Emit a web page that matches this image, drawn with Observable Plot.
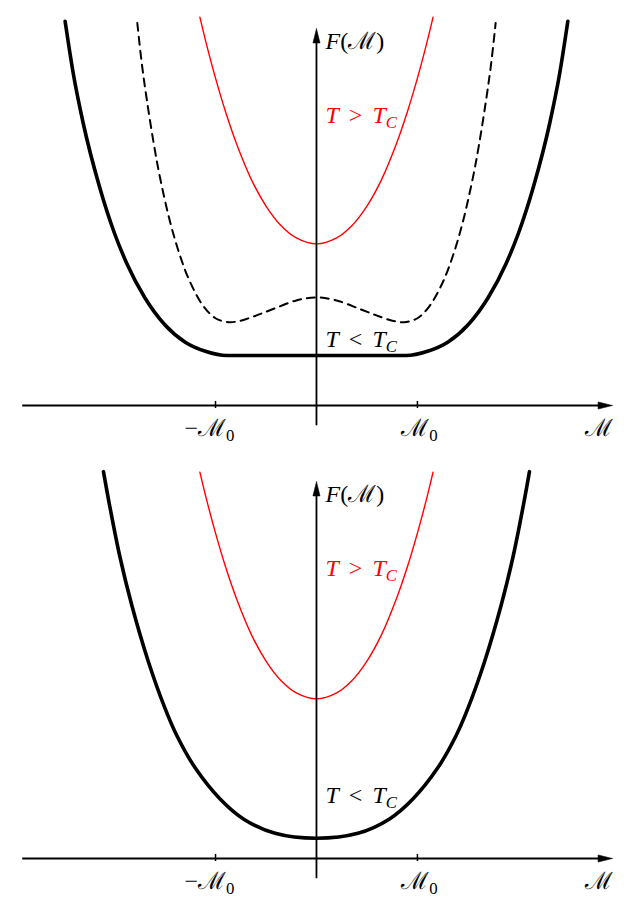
<!DOCTYPE html>
<html><head><meta charset="utf-8">
<script src="https://cdn.jsdelivr.net/npm/d3@7"></script>
<script src="https://cdn.jsdelivr.net/npm/@observablehq/plot@0.6"></script>
<style>body{margin:0;background:#fff;} svg{display:block;} text{white-space:pre;}</style>
</head><body><div id="chart"></div>
<script>
// ---- data (M in units of M0, F in arbitrary units); positive half, curves are symmetric ----
const redTopM   = [0, 0.2, 0.35, 0.5, 0.64, 0.79, 0.9, 1.0, 1.09, 1.155];
const redTopF   = [1.6, 1.66, 1.78, 1.975, 2.227, 2.587, 2.906, 3.241, 3.578, 3.845];
const blackTopM = [0, 0.5, 0.89, 1.1, 1.3, 1.5, 1.7, 1.88, 2.0, 2.15, 2.31, 2.41, 2.49];
const blackTopF = [0.495, 0.495, 0.495, 0.537, 0.627, 0.797, 1.067, 1.409, 1.703, 2.168, 2.792, 3.292, 3.804];
const dashTopM  = [0, 0.2, 0.43, 0.6, 0.75, 0.87, 1.0, 1.12, 1.25, 1.35, 1.45, 1.55, 1.61, 1.68, 1.73, 1.775];
const dashTopF  = [1.07, 1.04, 0.955, 0.89, 0.84, 0.825, 0.864, 0.984, 1.218, 1.478, 1.818, 2.258, 2.582, 3.023, 3.383, 3.788];

const redBotM   = [0, 0.2, 0.35, 0.5, 0.64, 0.79, 0.9, 1.0, 1.09, 1.155];
const redBotF   = [1.58, 1.64, 1.76, 1.955, 2.207, 2.567, 2.886, 3.221, 3.558, 3.825];
const blackBotM = [0, 0.41, 0.72, 0.955, 1.2, 1.38, 1.5, 1.665, 1.83, 1.95, 2.05, 2.11];
const blackBotF = [0.2, 0.249, 0.389, 0.589, 0.895, 1.21, 1.486, 1.948, 2.509, 3.0, 3.5, 3.83];

const tickValues  = [-1, 1];
const tickLabels  = ["−ℳ_0", "ℳ_0"];
const xAxisLabel  = "ℳ";
const yAxisLabel  = "F(ℳ)";
const hotLabel    = "T > T_C";
const coldLabel   = "T < T_C";
const hotLabelF   = [2.8, 2.8];     // top, bottom panel
const coldLabelF  = [0.584, 0.55];

// axis extents (data units)
const xAxisRange = [-2.91, 2.93];
const yAxisRange = [-0.2, 3.73];

const SERIF = "'Liberation Serif', 'DejaVu Serif', serif";
const RED = "#ff0000";
const FS = 24;

function mirror(M, F) {
  const pts = [];
  for (let i = M.length - 1; i > 0; i--) pts.push({M: -M[i], F: F[i]});
  for (let i = 0; i < M.length; i++) pts.push({M: M[i], F: F[i]});
  return pts;
}

function texify(svg) {
  svg.querySelectorAll("text").forEach(t => {
    const s = t.textContent;
    t.textContent = "";
    t.setAttribute("word-spacing", "4");
    for (let i = 0; i < s.length; i++) {
      let ch = s[i], sub = false;
      if (ch === "_") { sub = true; ch = s[++i]; }
      const ts = document.createElementNS("http://www.w3.org/2000/svg", "tspan");
      ts.textContent = ch;
      if (/[A-Za-z]/.test(ch)) ts.setAttribute("font-style", "italic");
      if (sub) { ts.setAttribute("font-size", "0.7em"); ts.setAttribute("dy", "0.3em"); }
      t.appendChild(ts);
    }
  });
}

function panel(height, curves, idx) {
  const headL = 0.14, headWx = 0.035, headLy = 0.14, headWy = 0.035;
  const hHead = [{M: xAxisRange[1], F: 0}, {M: xAxisRange[1] - headL, F: headWx}, {M: xAxisRange[1] - headL, F: -headWx}, {M: xAxisRange[1], F: 0}];
  const vHead = [{M: 0, F: yAxisRange[1]}, {M: -headWy, F: yAxisRange[1] - headLy}, {M: headWy, F: yAxisRange[1] - headLy}, {M: 0, F: yAxisRange[1]}];
  const marks = [];
  for (const c of curves) {
    marks.push(Plot.line(mirror(c.M, c.F), {x: "M", y: "F", curve: c.curve, stroke: c.stroke, strokeWidth: c.width, strokeDasharray: c.dash}));
  }
  const txt = {fontSize: FS, fontFamily: SERIF, lineAnchor: "bottom", fill: "black"};
  marks.push(
    Plot.ruleY([0], {x1: xAxisRange[0], x2: xAxisRange[1] - headL * 0.8, stroke: "black", strokeWidth: 1.8}),
    Plot.ruleX([0], {y1: yAxisRange[0], y2: yAxisRange[1] - headLy * 0.8, stroke: "black", strokeWidth: 1.8}),
    Plot.line(hHead, {x: "M", y: "F", fill: "black", stroke: "black", strokeWidth: 0.6}),
    Plot.line(vHead, {x: "M", y: "F", fill: "black", stroke: "black", strokeWidth: 0.6}),
    Plot.ruleX(tickValues, {y1: -0.03, y2: 0.04, stroke: "black", strokeWidth: 1.5}),
    Plot.text([tickValues[0]], {...txt, x: d => d, y: 0, text: [tickLabels[0]], dx: -6, dy: 30, textAnchor: "middle"}),
    Plot.text([tickValues[1]], {...txt, x: d => d, y: 0, text: [tickLabels[1]], dx: 2, dy: 30, textAnchor: "middle"}),
    Plot.text([xAxisLabel], {...txt, x: xAxisRange[1], y: 0, text: d => d, dx: -13, dy: 30, textAnchor: "middle"}),
    Plot.text([yAxisLabel], {...txt, x: 0, y: yAxisRange[1], text: d => d, dx: 9, dy: 20, textAnchor: "start"}),
    Plot.text([hotLabel], {...txt, x: 0, y: hotLabelF[idx], text: d => d, dx: 9, textAnchor: "start", fill: RED}),
    Plot.text([coldLabel], {...txt, x: 0, y: coldLabelF[idx], text: d => d, dx: 9, textAnchor: "start"})
  );
  const svg = Plot.plot({
    width: 638, height,
    marginLeft: 0, marginRight: 0, marginTop: 0, marginBottom: 0,
    style: {background: "white"},
    x: {domain: [-3.13, 3.19], range: [0, 638], axis: null},
    y: {domain: [0, 4], range: [405, 1], axis: null},
    marks
  });
  texify(svg);
  return svg;
}

const topPanel = panel(453, [
  {M: redTopM, F: redTopF, stroke: RED, width: 1.4, curve: "catmull-rom"},
  {M: dashTopM, F: dashTopF, stroke: "black", width: 2, dash: "8,6", curve: "catmull-rom"},
  {M: blackTopM, F: blackTopF, stroke: "black", width: 3.6, curve: "monotone-x"}
], 0);
const bottomPanel = panel(457, [
  {M: redBotM, F: redBotF, stroke: RED, width: 1.4, curve: "catmull-rom"},
  {M: blackBotM, F: blackBotF, stroke: "black", width: 3.6, curve: "catmull-rom"}
], 1);
const root = document.getElementById("chart");
root.appendChild(topPanel);
root.appendChild(bottomPanel);
</script>
</body></html>
